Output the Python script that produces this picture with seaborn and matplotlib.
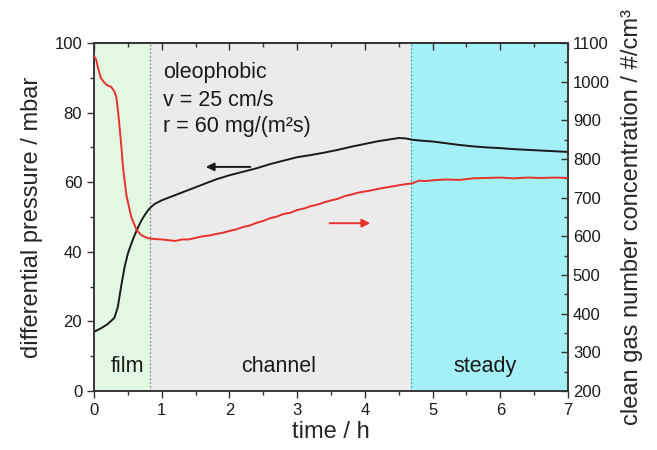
import matplotlib
matplotlib.use("Agg")
import matplotlib.pyplot as plt
from matplotlib.ticker import MultipleLocator, NullFormatter
import seaborn as sns
import pandas as pd

# Differential pressure (left axis) over filtration time
dp_time = [0.0, 0.1, 0.2, 0.3, 0.35, 0.4, 0.45, 0.5, 0.55, 0.6, 0.65, 0.7, 0.75,
           0.8, 0.85, 0.9, 1.0, 1.2, 1.4, 1.6, 1.8, 2.0, 2.2, 2.4, 2.6, 2.8, 3.0,
           3.2, 3.4, 3.6, 3.8, 4.0, 4.2, 4.4, 4.5, 4.6, 4.7, 4.8, 5.0, 5.2, 5.4,
           5.6, 5.8, 6.0, 6.2, 6.4, 6.6, 6.8, 7.0]
dp_mbar = [17.0, 18.0, 19.2, 21.0, 24.0, 30.0, 35.5, 39.5, 42.3, 44.8, 47.0, 49.0, 50.6,
           52.0, 53.0, 53.8, 54.8, 56.3, 57.8, 59.3, 60.8, 62.0, 63.0, 64.0, 65.2, 66.2, 67.2,
           67.8, 68.5, 69.3, 70.2, 71.0, 71.8, 72.4, 72.7, 72.6, 72.2, 72.0, 71.7, 71.2, 70.7,
           70.3, 70.0, 69.8, 69.5, 69.3, 69.1, 68.9, 68.7]

# Clean gas number concentration (right axis)
cn_time = [0.0, 0.03, 0.06, 0.1, 0.15, 0.2, 0.25, 0.3, 0.33, 0.36, 0.4, 0.43, 0.48,
           0.55, 0.63, 0.7, 0.8, 0.9, 1.0, 1.1, 1.2, 1.3, 1.4, 1.5, 1.6, 1.7, 1.8,
           1.9, 2.0, 2.1, 2.2, 2.3, 2.4, 2.5, 2.6, 2.7, 2.8, 2.9, 3.0, 3.1, 3.2,
           3.3, 3.4, 3.5, 3.6, 3.7, 3.8, 3.9, 4.0, 4.1, 4.2, 4.3, 4.4, 4.5, 4.6,
           4.7, 4.8, 4.9, 5.0, 5.2, 5.4, 5.6, 5.8, 6.0, 6.2, 6.4, 6.6, 6.8, 7.0]
cn_count = [1065, 1058, 1035, 1010, 998, 990, 987, 975, 960, 915, 840, 775, 705,
            650, 616, 603, 595, 593, 592, 590, 588, 592, 592, 596, 600, 602, 606,
            609, 614, 618, 624, 628, 635, 640, 647, 651, 658, 661, 668, 672, 678,
            682, 688, 693, 697, 704, 708, 713, 716, 719, 723, 726, 729, 732, 735,
            737, 744, 743, 745, 747, 746, 750, 751, 752, 750, 752, 751, 752, 751]

# Filtration phases
phase_names = ["film", "channel", "steady"]
phase_edges = [0.0, 0.83, 4.68, 7.0]
phase_colors = ["#e3f8e3", "#ebebeb", "#a3f1f6"]

dp_df = pd.DataFrame({"time": dp_time, "dp": dp_mbar})
cn_df = pd.DataFrame({"time": cn_time, "cn": cn_count})

sns.set_style("ticks")
plt.rcParams["font.family"] = ["Liberation Sans", "DejaVu Sans"]

fig = plt.figure(figsize=(6.57, 4.5), dpi=100)
ax = fig.add_axes([0.1431, 0.1311, 0.7214, 0.7733])
ax2 = ax.twinx()

# phase backgrounds and boundaries
for i, name in enumerate(phase_names):
    ax.axvspan(phase_edges[i], phase_edges[i + 1], color=phase_colors[i], lw=0, zorder=0)
ax.axvline(phase_edges[1], color="#8a8a8a", ls=(0, (1.5, 1.5)), lw=0.9, zorder=1)
ax.axvline(phase_edges[2], color="#3aa8b2", ls=(0, (1.5, 1.5)), lw=0.9, zorder=1)

sns.lineplot(data=dp_df, x="time", y="dp", ax=ax, color="#1a1a1a", lw=1.4, zorder=3)
sns.lineplot(data=cn_df, x="time", y="cn", ax=ax2, color="#e8302c", lw=1.4, zorder=3)

ax.set_xlim(0, 7)
ax.set_ylim(0, 100)
ax2.set_ylim(200, 1100)

ax.xaxis.set_major_locator(MultipleLocator(1))
ax.xaxis.set_minor_locator(MultipleLocator(0.5))
ax.yaxis.set_major_locator(MultipleLocator(20))
ax.yaxis.set_minor_locator(MultipleLocator(10))
ax2.yaxis.set_major_locator(MultipleLocator(100))
ax2.yaxis.set_minor_locator(MultipleLocator(50))

ax.tick_params(axis="both", which="major", labelsize=12, length=5, width=1.0,
               color="#333333", labelcolor="#1a1a1a", direction="out")
ax.tick_params(axis="both", which="minor", length=3, width=1.0, color="#333333",
               direction="out")
ax2.tick_params(axis="y", which="major", labelsize=12, length=5, width=1.0,
                color="#333333", labelcolor="#1a1a1a", direction="in")
ax2.tick_params(axis="y", which="minor", length=3, width=1.0, color="#333333", direction="in")

# inward ticks along the top edge
top = ax.secondary_xaxis("top")
top.xaxis.set_major_locator(MultipleLocator(1))
top.xaxis.set_minor_locator(MultipleLocator(0.5))
top.xaxis.set_major_formatter(NullFormatter())
top.tick_params(which="major", direction="in", length=5, width=1.0, color="#333333")
top.tick_params(which="minor", direction="in", length=3, width=1.0, color="#333333")
top.spines["top"].set_color("#333333")
top.spines["top"].set_linewidth(1.1)

for a in (ax, ax2):
    for s in a.spines.values():
        s.set_visible(True)
        s.set_color("#333333")
        s.set_linewidth(1.1)

ax.set_xlabel("time / h", fontsize=17, labelpad=2)
ax.set_ylabel("differential pressure / mbar", fontsize=17, labelpad=8)
ax2.set_ylabel("clean gas number concentration / #/cm³", fontsize=17, labelpad=8)

# phase names
ax.text(0.49, 6.9, "film", fontsize=15.5, ha="center", va="center", color="#1a1a1a")
ax.text(2.72, 6.9, "channel", fontsize=15.5, ha="center", va="center", color="#1a1a1a")
ax.text(5.78, 6.9, "steady", fontsize=15.5, ha="center", va="center", color="#1a1a1a")

# experiment conditions
for yv, s in zip([91.4, 83.6, 75.9], ["oleophobic", "v = 25 cm/s", "r = 60 mg/(m²s)"]):
    ax.text(1.02, yv, s, fontsize=15.5, ha="left", va="center", color="#1a1a1a")

# arrows pointing to the respective axis
ax.annotate("", xy=(1.61, 64.4), xytext=(2.35, 64.4),
            arrowprops=dict(arrowstyle="-|>", color="#1a1a1a", lw=1.4, mutation_scale=12))
ax2.annotate("", xy=(4.12, 634), xytext=(3.44, 634),
             arrowprops=dict(arrowstyle="-|>", color="#e8302c", lw=1.4, mutation_scale=12))

ax.set_zorder(ax2.get_zorder() - 1)
ax2.patch.set_visible(False)
ax.patch.set_visible(True)

fig.savefig("out.png", dpi=100, facecolor="white")
